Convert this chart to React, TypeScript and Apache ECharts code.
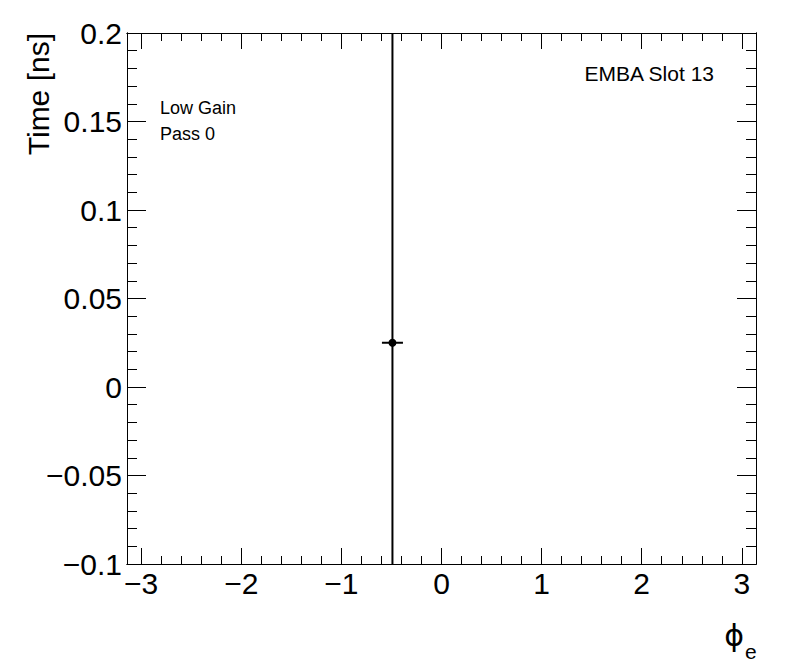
import React, { useEffect, useRef } from "react";
import * as echarts from "echarts";

// ---- data ----
const pointX = [-0.49];
const pointY = [0.025];
const pointXErr = [0.105];
const pointYErrLow = [0.4];
const pointYErrHigh = [0.4];

const xMajorTicks = [-3, -2, -1, 0, 1, 2, 3];
const xTickLabels = ["\u22123", "\u22122", "\u22121", "0", "1", "2", "3"];
const yMajorTicks = [-0.1, -0.05, 0, 0.05, 0.1, 0.15, 0.2];
const yTickLabels = ["\u22120.1", "\u22120.05", "0", "0.05", "0.1", "0.15", "0.2"];
const xMinorStep = 0.2;
const yMinorStep = 0.01;

const xMin = -Math.PI;
const xMax = Math.PI;
const yMin = -0.1;
const yMax = 0.2;

const xMinorTicks: number[] = [];
for (let i = 0; i <= 30; i++) xMinorTicks.push(+(-3 + i * xMinorStep).toFixed(2));
const yMinorTicks: number[] = [];
for (let i = 0; i <= 30; i++) yMinorTicks.push(+(-0.1 + i * yMinorStep).toFixed(3));

const FONT = "'Liberation Sans', Arial, Helvetica, sans-serif";

function labelFor(ticks: number[], labels: string[], v: number) {
  let best = 0;
  for (let i = 0; i < ticks.length; i++) {
    if (Math.abs(ticks[i] - v) < Math.abs(ticks[best] - v)) best = i;
  }
  return labels[best];
}

function xAxisDef(position: "top" | "bottom", ticks: number[], len: number, showLabel: boolean) {
  return {
    type: "value",
    min: xMin,
    max: xMax,
    position,
    axisLine: { show: true, onZero: false, lineStyle: { color: "#000", width: 1 } },
    axisTick: {
      show: true,
      inside: true,
      length: len,
      customValues: ticks,
      lineStyle: { color: "#000", width: 1 },
    },
    axisLabel: showLabel
      ? {
          show: true,
          customValues: xMajorTicks,
          formatter: (v: number) => labelFor(xMajorTicks, xTickLabels, v),
          fontSize: 30,
          fontFamily: FONT,
          color: "#000",
          margin: 4,
        }
      : { show: false },
    splitLine: { show: false },
    minorTick: { show: false },
  };
}

function yAxisDef(position: "left" | "right", ticks: number[], len: number, showLabel: boolean) {
  return {
    type: "value",
    min: yMin,
    max: yMax,
    position,
    axisLine: { show: true, onZero: false, lineStyle: { color: "#000", width: 1 } },
    axisTick: {
      show: true,
      inside: true,
      length: len,
      customValues: ticks,
      lineStyle: { color: "#000", width: 1 },
    },
    axisLabel: showLabel
      ? {
          show: true,
          customValues: yMajorTicks,
          formatter: (v: number) => labelFor(yMajorTicks, yTickLabels, v),
          fontSize: 30,
          fontFamily: FONT,
          color: "#000",
          margin: 5,
        }
      : { show: false },
    splitLine: { show: false },
    minorTick: { show: false },
  };
}

export default function App() {
  const ref = useRef<HTMLDivElement>(null);

  useEffect(() => {
    if (!ref.current) return;
    const chart = echarts.init(ref.current, null, { renderer: "svg" });
    const data = pointX.map((x, i) => [x, pointY[i], pointXErr[i], pointYErrLow[i], pointYErrHigh[i]]);

    chart.setOption({
      animation: false,
      backgroundColor: "#fff",
      grid: {
        left: 127,
        top: 33,
        right: 40,
        bottom: 108,
        containLabel: false,
        outerBoundsMode: "none",
        show: false,
      },
      xAxis: [
        xAxisDef("bottom", xMajorTicks, 16, true),
        xAxisDef("bottom", xMinorTicks, 8, false),
        xAxisDef("top", xMajorTicks, 16, false),
        xAxisDef("top", xMinorTicks, 8, false),
      ],
      yAxis: [
        yAxisDef("left", yMajorTicks, 19, true),
        yAxisDef("left", yMinorTicks, 10, false),
        yAxisDef("right", yMajorTicks, 19, false),
        yAxisDef("right", yMinorTicks, 10, false),
      ],
      series: [
        {
          type: "custom",
          xAxisIndex: 0,
          yAxisIndex: 0,
          clip: true,
          data,
          renderItem: (params: any, api: any) => {
            const x = api.value(0);
            const y = api.value(1);
            const xe = api.value(2);
            const yl = api.value(3);
            const yh = api.value(4);
            const cs = params.coordSys;
            const c = api.coord([x, y]);
            const l = api.coord([x - xe, y]);
            const r = api.coord([x + xe, y]);
            const lo = api.coord([x, y - yl]);
            const hi = api.coord([x, y + yh]);
            const top = Math.max(hi[1], cs.y);
            const bot = Math.min(lo[1], cs.y + cs.height);
            const st = { stroke: "#000", lineWidth: 2 };
            return {
              type: "group",
              children: [
                { type: "line", shape: { x1: c[0], y1: top, x2: c[0], y2: bot }, style: st },
                { type: "line", shape: { x1: l[0], y1: c[1], x2: r[0], y2: c[1] }, style: st },
                { type: "circle", shape: { cx: c[0], cy: c[1], r: 4 }, style: { fill: "#000" } },
              ],
            };
          },
        },
      ],
      graphic: [
        {
          type: "text",
          x: 38,
          y: 33,
          rotation: Math.PI / 2,
          style: {
            text: "Time [ns]",
            fontSize: 30,
            fontFamily: FONT,
            fill: "#000",
            align: "right",
            verticalAlign: "middle",
          },
        },
        {
          type: "text",
          x: 744,
          y: 635,
          style: {
            text: "\u03d5",
            fontSize: 30,
            fontFamily: "'DejaVu Sans', 'Liberation Sans', sans-serif",
            fill: "#000",
            align: "right",
            verticalAlign: "middle",
          },
        },
        {
          type: "text",
          x: 745,
          y: 651,
          style: {
            text: "e",
            fontSize: 21,
            fontFamily: FONT,
            fill: "#000",
            align: "left",
            verticalAlign: "middle",
          },
        },
        {
          type: "text",
          x: 714,
          y: 73,
          style: {
            text: "EMBA Slot 13",
            fontSize: 21,
            fontFamily: FONT,
            fill: "#000",
            align: "right",
            verticalAlign: "middle",
          },
        },
        {
          type: "text",
          x: 160,
          y: 108,
          style: {
            text: "Low Gain",
            fontSize: 18,
            fontFamily: FONT,
            fill: "#000",
            align: "left",
            verticalAlign: "middle",
          },
        },
        {
          type: "text",
          x: 160,
          y: 134,
          style: {
            text: "Pass 0",
            fontSize: 18,
            fontFamily: FONT,
            fill: "#000",
            align: "left",
            verticalAlign: "middle",
          },
        },
      ],
    });

    return () => {
      chart.dispose();
    };
  }, []);

  return (
    <div
      ref={ref}
      style={{ position: "fixed", left: 0, top: 0, width: 796, height: 672, background: "#fff" }}
    />
  );
}
